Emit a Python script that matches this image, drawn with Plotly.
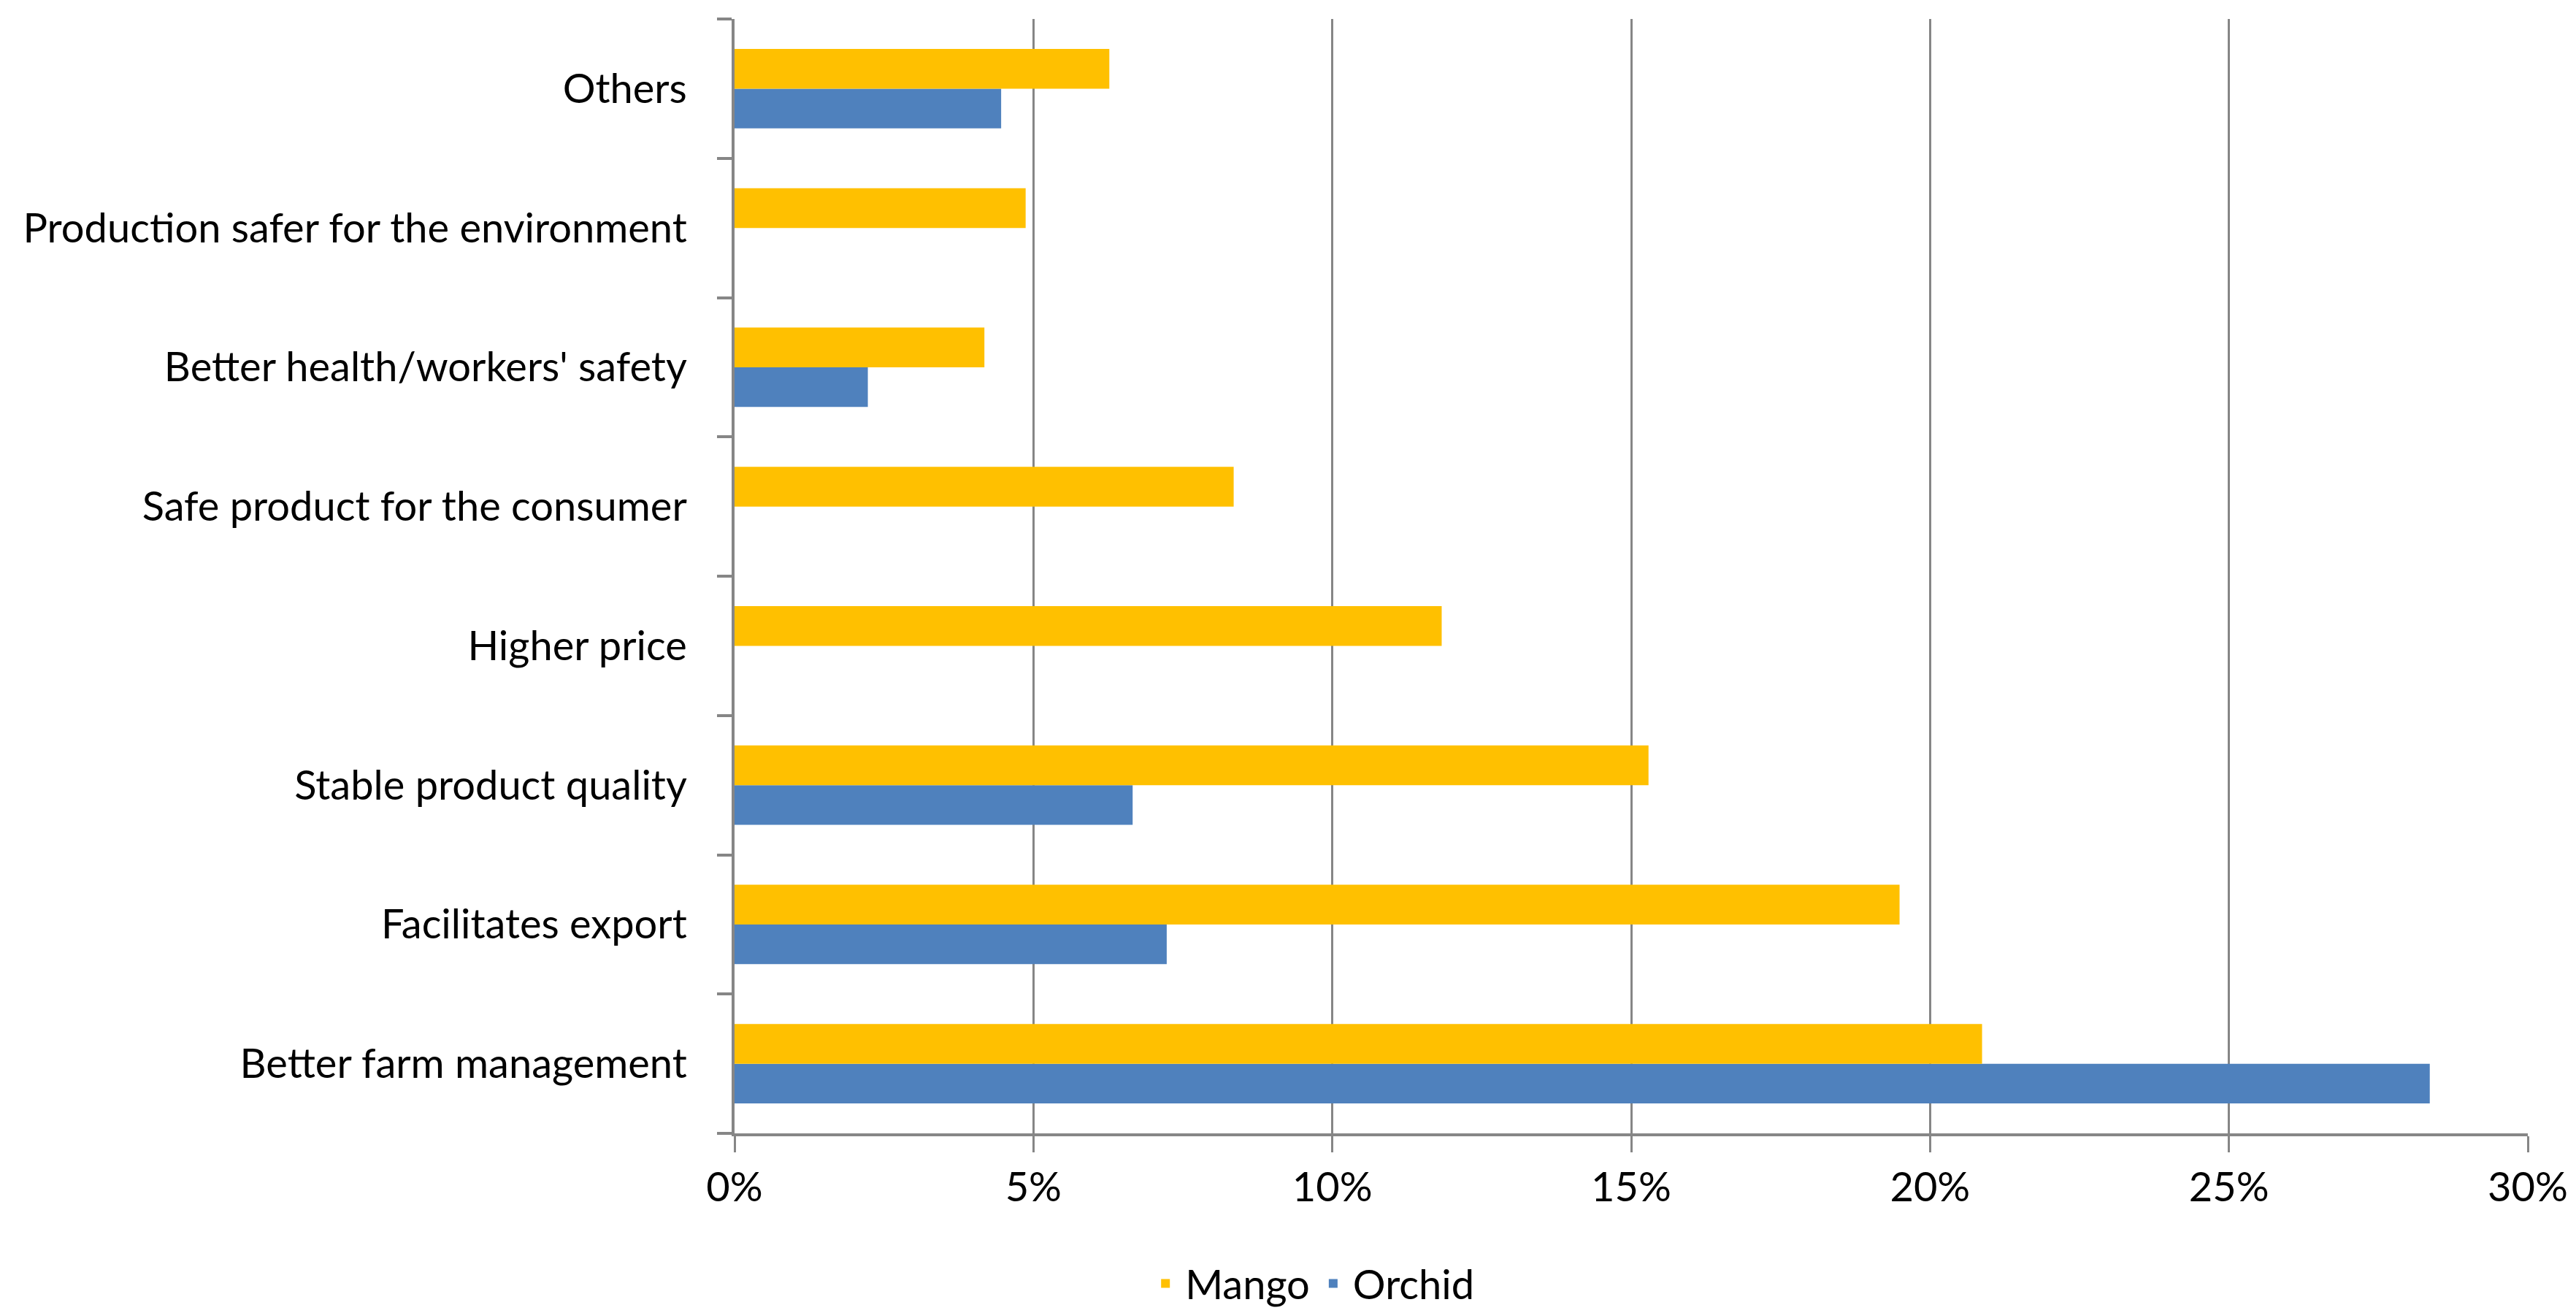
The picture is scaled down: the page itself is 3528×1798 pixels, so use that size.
import plotly.graph_objects as go

categories = [
    "Better farm management",
    "Facilitates export",
    "Stable product quality",
    "Higher price",
    "Safe product for the consumer",
    "Better health/workers' safety",
    "Production safer for the environment",
    "Others",
]
mango = [20.87, 19.49, 15.29, 11.83, 8.35, 4.18, 4.87, 6.27]
orchid = [28.36, 7.23, 6.66, 0, 0, 2.23, 0, 4.46]
x_ticks = [0, 5, 10, 15, 20, 25, 30]
x_tick_labels = ["0%", "5%", "10%", "15%", "20%", "25%", "30%"]

FONT = "Lato"
GRID = "#868686"

fig = go.Figure()
fig.add_trace(go.Bar(y=categories, x=orchid, name="Orchid", orientation="h",
                     marker=dict(color="#4F81BD", line=dict(width=0))))
fig.add_trace(go.Bar(y=categories, x=mango, name="Mango", orientation="h",
                     marker=dict(color="#FFC000", line=dict(width=0))))

fig.update_layout(
    width=3528, height=1798,
    paper_bgcolor="white", plot_bgcolor="white",
    barmode="group", bargap=0.4286, bargroupgap=0,
    margin=dict(l=998, r=74, t=18, b=254, autoexpand=False),
    font=dict(family=FONT, size=56, color="black"),
    legend=dict(orientation="h", traceorder="reversed",
                xref="container", yref="container",
                x=0.507, xanchor="center", y=0.003, yanchor="bottom",
                font=dict(size=56), itemwidth=44),
    showlegend=True,
)
fig.update_xaxes(
    range=[0, 30], tickmode="array", tickvals=x_ticks, ticktext=x_tick_labels,
    showgrid=True, gridcolor=GRID, gridwidth=3,
    showline=True, linecolor=GRID, linewidth=4,
    ticks="outside", ticklen=22, tickwidth=3, tickcolor=GRID,
    zeroline=False, tickfont=dict(size=56), ticklabelstandoff=0,
)
fig.update_yaxes(
    type="category", categoryorder="array", categoryarray=categories,
    showgrid=False, showline=True, linecolor=GRID, linewidth=4,
    ticks="outside", ticklen=20, tickwidth=4, tickcolor=GRID,
    tickson="boundaries", tickfont=dict(size=56), ticklabelstandoff=50,
)

fig.write_html("out.html")
